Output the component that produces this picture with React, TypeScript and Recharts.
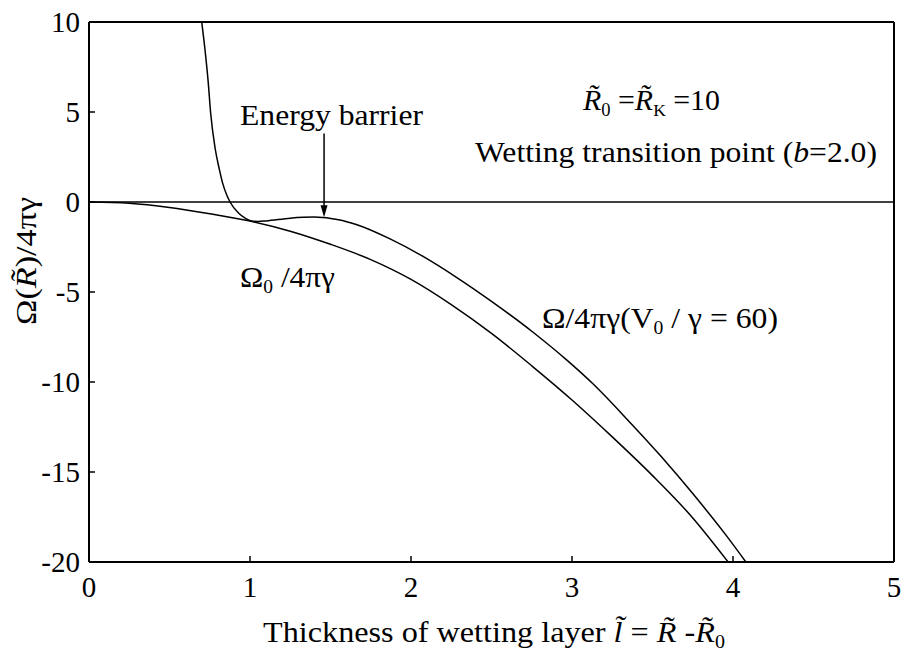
import { LineChart, Line, XAxis, YAxis, ReferenceLine, ReferenceDot, Customized } from 'recharts'

// thickness of wetting layer (x) and reduced free energy (y)
const thicknessBare = [0, 0.25, 0.5, 0.75, 1.0, 1.25, 1.5, 1.75, 2.0, 2.25, 2.5, 2.75, 3.0, 3.25, 3.5, 3.75, 3.97]
const omegaBare = [0, -0.07, -0.3, -0.65, -1.06, -1.62, -2.35, -3.2, -4.3, -5.7, -7.3, -9.1, -11.0, -13.05, -15.2, -17.55, -20]

const thicknessFull = [
  0.7, 0.72, 0.74, 0.756, 0.783, 0.81, 0.83, 0.855, 0.876, 0.93, 0.97, 1.01, 1.05, 1.1, 1.25,
  1.4, 1.55, 1.66, 1.87, 2.08, 2.28, 2.5, 2.76, 2.97, 3.13, 3.34, 3.55, 3.75, 3.96, 4.08,
]
const omegaFull = [
  10, 8.5, 6.7, 4.9, 3.0, 1.8, 1.05, 0.4, 0, -0.63, -0.9, -1.06, -1.08, -1.05, -0.9,
  -0.84, -0.98, -1.25, -2.05, -3.05, -4.17, -5.52, -7.25, -8.8, -10.1, -12.05, -14.1, -16.2, -18.55, -20,
]

const xTicks = [0, 1, 2, 3, 4, 5]
const yTicks = [-20, -15, -10, -5, 0, 5, 10]

// energy barrier arrow: top of shaft and tip
const barrierX = 1.46
const barrierTop = 3.8
const barrierTip = -0.85

const bareData = thicknessBare.map((l, i) => ({ l, v: omegaBare[i] }))
const fullData = thicknessFull.map((l, i) => ({ l, v: omegaFull[i] }))

const serif = "'Liberation Serif', 'Times New Roman', serif"
const font = { fontFamily: serif, fontSize: 29, fill: '#000' }
const sub = { fontFamily: serif, fontSize: 18 }
const subK = { fontFamily: serif, fontSize: 17 }
const ital = { fontFamily: serif, fontStyle: 'italic' as const }
const axisLine = { stroke: '#000', strokeWidth: 2 }
const tickLine = { stroke: '#000', strokeWidth: 1.5 }
const blank = () => ''

const XTick = (props: any) => (
  <text x={props.x} y={props.y} dy={20.5} textAnchor="middle" style={font}>
    {props.payload.value}
  </text>
)

const YTick = (props: any) => (
  <text x={props.x} y={props.y} dy={10} textAnchor="end" style={font}>
    {props.payload.value}
  </text>
)

const Arrowhead = (props: any) => {
  const { cx, cy } = props
  return <path d={`M${cx},${cy} L${cx - 3.5},${cy - 12} L${cx + 3.5},${cy - 12} Z`} fill="#000" />
}

const T = '\u0303'
const stretch = 'spacingAndGlyphs'

function Annotations() {
  return (
    <g>
      <text x={232} y={117} style={font} textLength={183} lengthAdjust={stretch}>
        Energy barrier
      </text>
      <text x={575} y={102} style={font} textLength={137} lengthAdjust={stretch}>
        <tspan style={ital}>R{T}</tspan>
        <tspan style={sub} dy={6}>0</tspan>
        <tspan dy={-6}> =</tspan>
        <tspan style={ital}>R{T}</tspan>
        <tspan style={subK} dy={6}>K</tspan>
        <tspan dy={-6}> =10</tspan>
      </text>
      <text x={467} y={154} style={font} textLength={402} lengthAdjust={stretch}>
        Wetting transition point (<tspan style={ital}>b</tspan>=2.0)
      </text>
      <text x={232} y={279} style={font} textLength={95} lengthAdjust={stretch}>
        Ω<tspan style={sub} dy={6}>0</tspan>
        <tspan dy={-6}> /4πγ</tspan>
      </text>
      <text x={534} y={320} style={font} textLength={236} lengthAdjust={stretch}>
        Ω/4πγ(V<tspan style={sub} dy={6}>0</tspan>
        <tspan dy={-6}> / γ = 60)</tspan>
      </text>
      <text x={255} y={634} style={font} textLength={462} lengthAdjust={stretch}>
        Thickness of wetting layer <tspan style={ital}>l{T}</tspan> = <tspan style={ital}>R{T}</tspan> -
        <tspan style={ital}>R{T}</tspan>
        <tspan style={sub} dy={6}>0</tspan>
      </text>
      <text transform="translate(28,317) rotate(-90)" style={font} textLength={128} lengthAdjust={stretch}>
        Ω(<tspan style={ital}>R{T}</tspan>)/4πγ
      </text>
    </g>
  )
}

export default function App() {
  return (
    <LineChart width={894} height={646} margin={{ top: 0, right: 0, bottom: 0, left: 0 }}>
      <XAxis
        dataKey="l"
        type="number"
        domain={[0, 5]}
        ticks={xTicks}
        allowDataOverflow
        height={92}
        tickSize={-6}
        tickMargin={20}
        tick={XTick}
        axisLine={axisLine}
        tickLine={tickLine}
      />
      <XAxis
        xAxisId="top"
        orientation="top"
        dataKey="l"
        type="number"
        domain={[0, 5]}
        ticks={xTicks}
        height={14}
        tickSize={-6}
        tickFormatter={blank}
        axisLine={axisLine}
        tickLine={tickLine}
      />
      <YAxis
        type="number"
        domain={[-20, 10]}
        ticks={yTicks}
        allowDataOverflow
        width={81}
        tickSize={-6}
        tickMargin={15}
        tick={YTick}
        axisLine={axisLine}
        tickLine={tickLine}
      />
      <YAxis
        yAxisId="right"
        orientation="right"
        type="number"
        domain={[-20, 10]}
        ticks={yTicks}
        width={8}
        tickSize={-6}
        tickFormatter={blank}
        axisLine={axisLine}
        tickLine={tickLine}
      />
      <ReferenceLine y={0} stroke="#000" strokeWidth={1.5} />
      <Line
        data={bareData}
        dataKey="v"
        type="monotone"
        stroke="#000"
        strokeWidth={1.5}
        dot={false}
        isAnimationActive={false}
      />
      <Line
        data={fullData}
        dataKey="v"
        type="monotone"
        stroke="#000"
        strokeWidth={1.5}
        dot={false}
        isAnimationActive={false}
      />
      <ReferenceLine
        segment={[
          { x: barrierX, y: barrierTop },
          { x: barrierX, y: barrierTip + 0.5 },
        ]}
        stroke="#000"
        strokeWidth={1.5}
      />
      <ReferenceDot x={barrierX} y={barrierTip} r={0} shape={Arrowhead} />
      <Customized component={Annotations} />
    </LineChart>
  )
}
